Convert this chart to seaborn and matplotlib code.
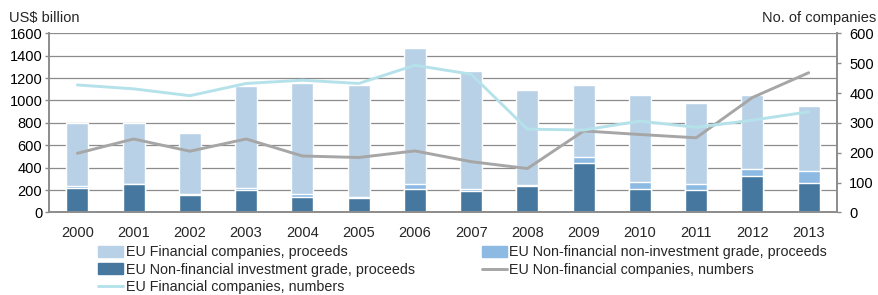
import numpy as np
import pandas as pd
import matplotlib
matplotlib.use('Agg')
import matplotlib.pyplot as plt
import seaborn as sns
from matplotlib.patches import Patch
from matplotlib.lines import Line2D

# data
years = ['2000', '2001', '2002', '2003', '2004', '2005', '2006',
         '2007', '2008', '2009', '2010', '2011', '2012', '2013']
nonfin_ig = [222, 250, 155, 200, 140, 130, 211, 190, 238, 443, 211, 202, 327, 259]
nonfin_nonig = [13, 3, 9, 20, 26, 4, 39, 18, 6, 49, 60, 54, 57, 113]
fin_proceeds = [565, 547, 546, 905, 994, 1001, 1215, 1052, 846, 643, 774, 719, 661, 578]
fin_numbers = [427, 414, 391, 432, 443, 432, 493, 463, 279, 276, 306, 285, 309, 337]
nonfin_numbers = [198, 246, 205, 246, 189, 184, 206, 170, 147, 273, 261, 250, 385, 468]

lab_fin = 'EU Financial companies, proceeds'
lab_nonig = 'EU Non-financial non-investment grade, proceeds'
lab_ig = 'EU Non-financial investment grade, proceeds'
lab_nfnum = 'EU Non-financial companies, numbers'
lab_fnum = 'EU Financial companies, numbers'

c_light = '#B9D1E7'
c_mid = '#8DBAE3'
c_dark = '#46789F'
c_gray = '#A6A6A6'
c_cyan = '#B5E2EA'
c_axis = '#8C8C8C'

sns.set_theme(style='white')
plt.rcParams['font.family'] = ['Liberation Sans', 'DejaVu Sans']
plt.rcParams['font.size'] = 10.5

df = pd.DataFrame({'year': years, 'ig': nonfin_ig, 'nonig': nonfin_nonig,
                   'fin': fin_proceeds, 'fnum': fin_numbers, 'nfnum': nonfin_numbers})
df['top_nonig'] = df['ig'] + df['nonig']
df['total'] = df['top_nonig'] + df['fin']

fig = plt.figure(figsize=(8.79, 2.95), dpi=100)
ax = fig.add_axes([0.056, 0.280, 0.896, 0.607])

# stacked bars: draw the totals first, then overlay lower segments
bw = 0.39
sns.barplot(data=df, x='year', y='total', color=c_light, width=bw, ax=ax, saturation=1, zorder=2)
sns.barplot(data=df, x='year', y='top_nonig', color=c_mid, width=bw, ax=ax, saturation=1, zorder=2)
sns.barplot(data=df, x='year', y='ig', color=c_dark, width=bw, ax=ax, saturation=1, zorder=2)

ax.set_ylim(0, 1600)
ax.set_yticks(np.arange(0, 1601, 200))
ax.set_xlim(-0.5, len(years) - 0.5)
ax.yaxis.grid(True, color=c_axis, linewidth=0.9, zorder=0)
ax.set_axisbelow(True)
ax.set_xlabel('')
ax.set_ylabel('')

ax2 = ax.twinx()
sns.pointplot(data=df, x='year', y='nfnum', color=c_gray, markers='', linewidth=2.1, ax=ax2)
sns.pointplot(data=df, x='year', y='fnum', color=c_cyan, markers='', linewidth=2.1, ax=ax2)
ax2.set_ylim(0, 600)
ax2.set_yticks(np.arange(0, 601, 100))
ax2.set_xlim(-0.5, len(years) - 0.5)
ax2.set_ylabel('')
ax2.set_xlabel('')

for a in (ax, ax2):
    a.spines['top'].set_visible(False)
    for s in ('left', 'right', 'bottom'):
        a.spines[s].set_color(c_axis)
        a.spines[s].set_linewidth(1.2)
    a.tick_params(axis='y', colors='black', labelsize=10.5, length=3, width=1, color=c_axis, direction='out')

ax.tick_params(axis='y', pad=2)
ax2.tick_params(axis='y', pad=6)

# category ticks between the years
ax.set_xticks(np.arange(len(years)))
ax.set_xticklabels(years, fontsize=10.5)
ax.tick_params(axis='x', which='major', length=0, pad=10)
ax.set_xticks(np.arange(-0.5, len(years)), minor=True)
ax.tick_params(axis='x', which='minor', length=4, width=1, color=c_axis, direction='out')

fig.text(0.010, 0.94, 'US$ billion', fontsize=10.5, ha='left', va='center')
fig.text(0.997, 0.94, 'No. of companies', fontsize=10.5, ha='right', va='center')

handles = [Patch(color=c_light, label=lab_fin),
           Patch(color=c_dark, label=lab_ig),
           Line2D([], [], color=c_cyan, linewidth=2.1, label=lab_fnum),
           Patch(color=c_mid, label=lab_nonig),
           Line2D([], [], color=c_gray, linewidth=2.1, label=lab_nfnum)]
fig.legend(handles=handles, loc='upper left', bbox_to_anchor=(0.1115, 0.169), ncol=2,
           frameon=False, fontsize=10.25, handlelength=1.75, handleheight=0.8,
           handletextpad=0.2, labelspacing=0.25, columnspacing=4.7,
           borderaxespad=0, borderpad=0)

fig.savefig('out.png', dpi=100)
